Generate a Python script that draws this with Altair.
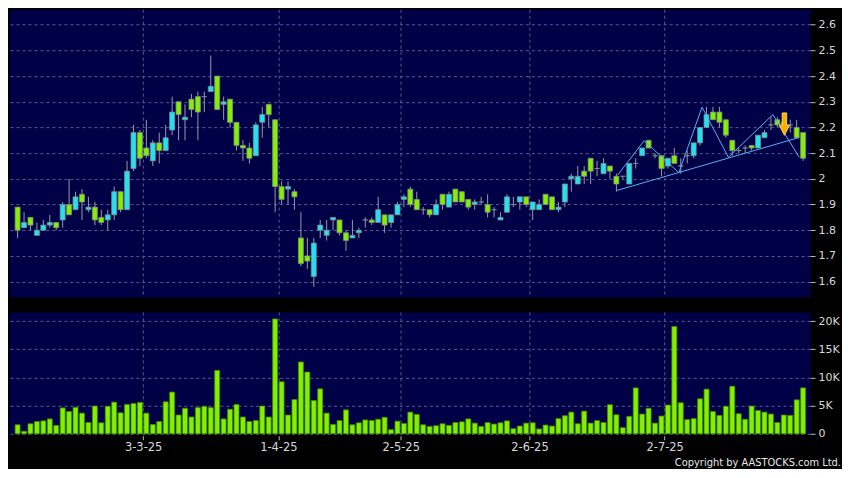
import altair as alt
import pandas as pd
import numpy as np

# ---------------- data ----------------
opens = [1.89, 1.81, 1.85, 1.78, 1.80, 1.82, 1.83, 1.84, 1.90, 1.88,
         1.94, 1.88, 1.89, 1.85, 1.84, 1.86, 1.95, 1.88, 2.04, 2.18,
         2.12, 2.07, 2.14, 2.11, 2.19, 2.30, 2.23, 2.31, 2.32, 2.32,
         2.34, 2.40, 2.29, 2.31, 2.22, 2.13, 2.12, 2.09, 2.22, 2.29,
         2.23, 1.97, 1.96, 1.95, 1.77, 1.70, 1.62, 1.80, 1.78, 1.84,
         1.84, 1.79, 1.77, 1.79, 1.84, 1.84, 1.83, 1.86, 1.83, 1.86,
         1.92, 1.96, 1.92, 1.88, 1.88, 1.86, 1.94, 1.89, 1.96, 1.95,
         1.92, 1.90, 1.91, 1.90, 1.88, 1.84, 1.87, 1.90, 1.91, 1.93,
         1.88, 1.88, 1.94, 1.93, 1.88, 1.91, 2.00, 1.98, 2.03, 2.08,
         2.04, 2.02, 2.05, 2.01, 2.01, 1.98, 2.06, 2.09, 2.15, 2.09,
         2.09, 2.05, 2.09, 2.05, 2.09, 2.09, 2.14, 2.20, 2.26, 2.26,
         2.23, 2.15, 2.11, 2.12, 2.13, 2.12, 2.16, 2.21, 2.23, 2.22,
         2.21, 2.20, 2.18]
highs = [1.89, 1.87, 1.85, 1.83, 1.84, 1.86, 1.83, 1.91, 2.00, 1.95,
         1.96, 1.93, 1.91, 1.88, 1.88, 1.97, 1.95, 2.07, 2.21, 2.19,
         2.23, 2.15, 2.18, 2.21, 2.32, 2.30, 2.29, 2.33, 2.34, 2.34,
         2.48, 2.40, 2.32, 2.31, 2.22, 2.15, 2.14, 2.22, 2.28, 2.29,
         2.23, 1.99, 1.99, 1.96, 1.87, 1.77, 1.77, 1.84, 1.84, 1.85,
         1.84, 1.80, 1.84, 1.81, 1.85, 1.85, 1.93, 1.86, 1.86, 1.91,
         1.94, 1.97, 1.95, 1.89, 1.88, 1.92, 1.94, 1.95, 1.96, 1.95,
         1.92, 1.92, 1.93, 1.94, 1.89, 1.87, 1.94, 1.93, 1.93, 1.93,
         1.91, 1.92, 1.94, 1.93, 1.91, 1.98, 2.02, 2.05, 2.05, 2.08,
         2.07, 2.08, 2.05, 2.02, 2.01, 2.06, 2.08, 2.12, 2.15, 2.10,
         2.09, 2.08, 2.12, 2.08, 2.11, 2.14, 2.20, 2.28, 2.28, 2.28,
         2.23, 2.15, 2.12, 2.13, 2.13, 2.17, 2.19, 2.24, 2.24, 2.23,
         2.23, 2.23, 2.18]
lows = [1.77, 1.81, 1.80, 1.78, 1.80, 1.81, 1.80, 1.81, 1.86, 1.88,
        1.84, 1.87, 1.82, 1.82, 1.80, 1.84, 1.87, 1.88, 2.03, 2.05,
        2.08, 2.05, 2.06, 2.11, 2.17, 2.15, 2.15, 2.24, 2.15, 2.26,
        2.34, 2.27, 2.23, 2.20, 2.11, 2.07, 2.06, 2.09, 2.16, 2.20,
        1.87, 1.90, 1.90, 1.88, 1.66, 1.65, 1.58, 1.77, 1.76, 1.80,
        1.78, 1.72, 1.77, 1.77, 1.81, 1.82, 1.83, 1.79, 1.81, 1.86,
        1.89, 1.89, 1.88, 1.86, 1.85, 1.86, 1.88, 1.89, 1.91, 1.91,
        1.88, 1.88, 1.90, 1.85, 1.85, 1.84, 1.87, 1.89, 1.88, 1.89,
        1.84, 1.88, 1.90, 1.88, 1.87, 1.89, 1.95, 1.98, 1.98, 1.98,
        2.01, 2.02, 2.00, 1.95, 2.00, 1.98, 2.04, 2.09, 2.12, 2.08,
        2.01, 2.04, 2.06, 2.02, 2.06, 2.08, 2.13, 2.20, 2.23, 2.20,
        2.16, 2.09, 2.10, 2.10, 2.11, 2.12, 2.16, 2.19, 2.20, 2.20,
        2.18, 2.16, 2.07]
closes = [1.80, 1.83, 1.82, 1.80, 1.82, 1.83, 1.81, 1.90, 1.86, 1.93,
          1.91, 1.89, 1.84, 1.83, 1.86, 1.95, 1.88, 2.03, 2.18, 2.08,
          2.09, 2.14, 2.11, 2.16, 2.26, 2.25, 2.24, 2.27, 2.26, 2.32,
          2.36, 2.27, 2.30, 2.22, 2.13, 2.12, 2.08, 2.21, 2.25, 2.25,
          1.97, 1.92, 1.97, 1.93, 1.67, 1.68, 1.75, 1.82, 1.80, 1.85,
          1.79, 1.76, 1.78, 1.80, 1.84, 1.83, 1.88, 1.82, 1.86, 1.90,
          1.93, 1.90, 1.88, 1.88, 1.86, 1.90, 1.90, 1.94, 1.91, 1.91,
          1.89, 1.91, 1.91, 1.87, 1.88, 1.85, 1.93, 1.90, 1.93, 1.90,
          1.91, 1.90, 1.90, 1.88, 1.89, 1.98, 2.01, 2.01, 2.01, 2.03,
          2.04, 2.06, 2.03, 1.98, 2.01, 2.06, 2.06, 2.12, 2.12, 2.09,
          2.04, 2.08, 2.06, 2.05, 2.09, 2.14, 2.20, 2.25, 2.23, 2.22,
          2.17, 2.11, 2.11, 2.12, 2.12, 2.17, 2.18, 2.21, 2.21, 2.21,
          2.21, 2.16, 2.08]
volumes = [1600, 450, 1780, 2180, 2290, 2640, 1490, 4590, 3960, 4700,
           3670, 2000, 4930, 1950, 4880, 5620, 3730, 5220, 5390, 5570,
           3670, 1660, 2180, 5680, 7410, 3330, 4530, 2980, 4650, 4880,
           4650, 11260, 2640, 4360, 5220, 2980, 2180, 2350, 4930, 2980,
           20400, 9240, 3330, 6090, 12760, 10970, 5910, 7980, 3670, 1660,
           2350, 4250, 1600, 1950, 2460, 2350, 2580, 2930, 740, 2240,
           1830, 3850, 3450, 1600, 1310, 1430, 1780, 1490, 2000, 2120,
           2640, 1890, 1310, 2000, 1720, 1950, 2290, 910, 1370, 1890,
           1950, 860, 1550, 1370, 2700, 3210, 3850, 1780, 4020, 1890,
           2350, 2000, 5170, 3380, 1090, 3100, 8150, 3500, 4530, 1890,
           3150, 5110, 19070, 5510, 2520, 2700, 6210, 7930, 3960, 3270,
           4880, 8450, 3560, 2580, 4930, 4130, 3850, 3500, 2000, 3330,
           3270, 6030, 8150]

tick_pos = [19.5, 40.5, 59.5, 79.5, 100.5]
tick_labels = ["3-3-25", "1-4-25", "2-5-25", "2-6-25", "2-7-25"]
price_ticks = [1.6, 1.7, 1.8, 1.9, 2.0, 2.1, 2.2, 2.3, 2.4, 2.5, 2.6]
vol_ticks = [0, 5000, 10000, 15000, 20000]

zigzag_x = [93.2, 97.3, 102.7, 106.3, 110.4, 117.3, 121.4]
zigzag_y = [2.015, 2.148, 2.024, 2.279, 2.084, 2.250, 2.084]
trend_x = [93.1, 121.4]
trend_y = [1.955, 2.161]
arrow_x = [119.1]
arrow_y = [2.213]
copyright_text = ["Copyright by AASTOCKS.com Ltd."]

# ---------------- style ----------------
BG = "#000000"
NAVY = "#000046"
GRID = "#5a5a8c"
GREEN = "#84f000"
CYAN = "#22e2f2"
FLAT = "#9fb4c4"
WICK = "#9a9aaa"
EDGE = "#7d8a86"
LINE = "#52b2f0"
TXT = "#d8d8d8"

W = 802
H1 = 288
H2 = 122

n = len(opens)
df = pd.DataFrame({"i": np.arange(n), "open": opens, "high": highs,
                   "low": lows, "close": closes, "vol": volumes})
o = np.array(opens)
c = np.array(closes)
df["dir"] = np.where(c > o, "up", np.where(c < o, "down", "flat"))

xscale = alt.Scale(domain=[-0.56, 122.3], nice=False, zero=False)
pscale = alt.Scale(domain=[1.5404, 2.66], nice=False, zero=False)
vscale = alt.Scale(domain=[0, 21650], nice=False, zero=False)

label_expr = " : ".join(
    f"datum.value == {p} ? '{l}'" for p, l in zip(tick_pos, tick_labels)
) + " : ''"

x_grid_axis = alt.Axis(values=tick_pos, grid=True, labels=False, ticks=False,
                       domain=False, gridDash=[3, 3], gridColor=GRID, gridWidth=1)
x_label_axis = alt.Axis(values=tick_pos, grid=True, labels=True, ticks=True,
                        domain=False, gridDash=[3, 3], gridColor=GRID, gridWidth=1,
                        labelExpr=label_expr, tickSize=4, tickColor="#bbbbbb",
                        labelPadding=2, labelFont="DejaVu Sans", labelFontSize=11.5,
                        labelColor=TXT, offset=2)
p_axis = alt.Axis(orient="right", values=price_ticks, format="~g", grid=True,
                  gridDash=[3, 3], gridColor=GRID, gridWidth=1, domain=False,
                  tickSize=5, tickColor="#bbbbbb", labelPadding=3,
                  labelOverlap=False,
                  labelFont="DejaVu Sans", labelFontSize=11, labelColor=TXT)
v_axis = alt.Axis(orient="right", values=vol_ticks, grid=True,
                  gridDash=[3, 3], gridColor=GRID, gridWidth=1, domain=False,
                  tickSize=5, tickColor="#bbbbbb", labelPadding=3,
                  labelOverlap=False,
                  labelExpr="datum.value == 0 ? '0' : (datum.value / 1000) + 'K'",
                  labelFont="DejaVu Sans", labelFontSize=11, labelColor=TXT)


def ux(field):
    return alt.X(field, scale=xscale, axis=x_grid_axis, title=None)


def uy(field):
    return alt.Y(field, scale=pscale, axis=p_axis, title=None)


base = alt.Chart(df)

wicks = base.mark_rule(color=WICK, strokeWidth=1).encode(
    x=ux("i:Q"), y=uy("low:Q"), y2="high:Q",
)
bodies = base.mark_bar(size=5, stroke=EDGE, strokeWidth=0.8).encode(
    x=ux("i:Q"), y=uy("open:Q"), y2="close:Q",
    color=alt.Color("dir:N", scale=alt.Scale(domain=["up", "down", "flat"],
                                             range=[CYAN, GREEN, FLAT]),
                    legend=None),
)

zz = pd.DataFrame({"x": zigzag_x, "y": zigzag_y, "k": np.arange(len(zigzag_x))})
zigzag = alt.Chart(zz).mark_line(color=LINE, strokeWidth=1).encode(
    x=ux("x:Q"), y=uy("y:Q"), order="k:Q",
)
tr = pd.DataFrame({"x": trend_x, "y": trend_y, "k": np.arange(len(trend_x))})
trend = alt.Chart(tr).mark_line(color=LINE, strokeWidth=1).encode(
    x=ux("x:Q"), y=uy("y:Q"), order="k:Q",
)
arrow_shape = "M-0.2,-1 L0.2,-1 L0.2,0.1 L0.45,0.1 L0,1 L-0.45,0.1 L-0.2,0.1 Z"
ar = pd.DataFrame({"x": arrow_x, "y": arrow_y})
arrow = alt.Chart(ar).mark_point(shape=arrow_shape, filled=True, size=500,
                                 fill="#f8b000", stroke="#ffd84a",
                                 strokeWidth=1, opacity=1).encode(
    x=ux("x:Q"), y=uy("y:Q"),
)

upper = alt.layer(wicks, bodies, zigzag, trend, arrow).properties(width=W, height=H1)

vbars = base.mark_bar(size=5, fill=GREEN, stroke="#3f8a00", strokeWidth=0.8).encode(
    x=alt.X("i:Q", scale=xscale, axis=x_label_axis, title=None),
    y=alt.Y("vol:Q", scale=vscale, axis=v_axis, title=None),
)
cp = pd.DataFrame({"t": copyright_text})
copyright = alt.Chart(cp).mark_text(align="right", baseline="middle",
                                    font="Liberation Sans Narrow, DejaVu Sans Condensed, DejaVu Sans",
                                    fontSize=11, color="#e6e6e6").encode(
    text="t:N", x=alt.value(W + 31), y=alt.value(H2 + 29),
)
lower = alt.layer(vbars, copyright).properties(width=W, height=H2)

chart = alt.vconcat(upper, lower, spacing=13).properties(
    background=BG,
    padding={"left": 0, "top": 0, "right": 0, "bottom": 0},
).configure_view(fill=NAVY, stroke="transparent")

chart.save("out.html", embed_options={"renderer": "svg", "actions": False})
